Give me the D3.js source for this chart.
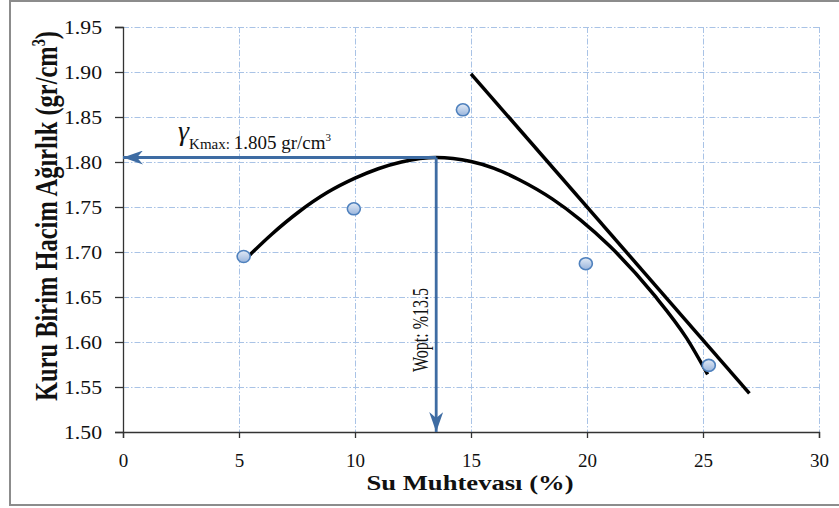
<!DOCTYPE html>
<html>
<head>
<meta charset="utf-8">
<script src="https://cdn.jsdelivr.net/npm/d3@7"></script>
<style>
  body { margin: 0; background: #fff; }
  text { font-family: "Liberation Serif", "Times New Roman", serif; fill: #111; }
</style>
</head>
<body>
<div id="chart"></div>
<script>
// measured points
var moisture = [5.2, 9.95, 14.65, 19.95, 25.25]
var dryDensity = [1.695, 1.748, 1.858, 1.687, 1.574]

// fitted compaction curve
var curveW = [5.2, 6.4, 7.6, 8.8, 10.0, 11.0, 12.0, 13.5, 15.0, 16.0, 17.1, 18.5, 19.7, 21.0, 22.9, 24.3, 25.2]
var curveD = [1.690, 1.7195, 1.745, 1.766, 1.782, 1.7925, 1.800, 1.805, 1.8005, 1.793, 1.780, 1.759, 1.736, 1.706, 1.652, 1.604, 1.564]

// saturation line
var tangentW = [15.0, 27.0]
var tangentD = [1.898, 1.543]

var xTicks = [0, 5, 10, 15, 20, 25, 30]
var yTicks = [1.50, 1.55, 1.60, 1.65, 1.70, 1.75, 1.80, 1.85, 1.90, 1.95]

var gammaMax = 1.805,
    wOpt = 13.5

var width = 839,
    height = 508,
    margin = {top: 27, right: 20, bottom: 76, left: 123}

var svg = d3.select('#chart').append('svg')
    .attr('width', width)
    .attr('height', height)

var defs = svg.append('defs')

var grad = defs.append('linearGradient')
    .attr('id', 'dot')
    .attr('x1', 0).attr('y1', 0).attr('x2', 0).attr('y2', 1)
grad.append('stop').attr('offset', '0%').attr('stop-color', '#e3ebf6')
grad.append('stop').attr('offset', '100%').attr('stop-color', '#98b4dc')

defs.append('marker')
    .attr('id', 'head')
    .attr('viewBox', '0 -7 20 14')
    .attr('refX', 20)
    .attr('refY', 0)
    .attr('markerWidth', 20)
    .attr('markerHeight', 14)
    .attr('markerUnits', 'userSpaceOnUse')
    .attr('orient', 'auto')
  .append('path')
    .attr('d', 'M0,-7L20,0L0,7L6,0Z')
    .attr('fill', '#3e6ca3')

// outer frame
svg.append('rect')
    .attr('x', 10)
    .attr('y', 1)
    .attr('width', width)
    .attr('height', 504)
    .attr('fill', 'none')
    .attr('stroke', '#8c8c8c')
    .attr('stroke-width', 2)

var x = d3.scaleLinear()
    .domain([0, 30])
    .range([margin.left, width - margin.right])

var y = d3.scaleLinear()
    .domain([1.50, 1.95])
    .range([height - margin.bottom, margin.top])

// grid
var grid = svg.append('g')
    .attr('stroke', '#a9c3e6')
    .attr('stroke-width', 1)
    .attr('stroke-dasharray', '6,2,1.5,2')

grid.selectAll('.gx')
    .data(xTicks.slice(1))
  .enter().append('line')
    .attr('class', 'gx')
    .attr('x1', function (d) { return x(d) + 0.5 })
    .attr('x2', function (d) { return x(d) + 0.5 })
    .attr('y1', y(1.95))
    .attr('y2', y(1.50))

grid.selectAll('.gy')
    .data(yTicks.slice(1))
  .enter().append('line')
    .attr('class', 'gy')
    .attr('x1', x(0))
    .attr('x2', x(30))
    .attr('y1', function (d) { return y(d) + 0.5 })
    .attr('y2', function (d) { return y(d) + 0.5 })

// axes
var x_axis = d3.axisBottom(x)
    .tickValues(xTicks)
    .tickSize(6)
    .tickPadding(0)
    .tickFormat(d3.format('d'))

var y_axis = d3.axisLeft(y)
    .tickValues(yTicks)
    .tickSize(8)
    .tickPadding(13)
    .tickFormat(d3.format('.2f'))

var gx = svg.append('g')
    .attr('transform', 'translate(0,' + y(1.50) + ')')
    .call(x_axis)
    .attr('font-family', null)
    .attr('font-size', null)
gx.select('.domain').attr('stroke', '#333').attr('stroke-width', 1.3)
gx.selectAll('.tick line').attr('stroke', '#333').attr('stroke-width', 1.3)
gx.selectAll('.tick text')
    .attr('y', 35)
    .attr('dy', null)
    .style('font-size', '19px')
    .attr('fill', '#111')

var gy = svg.append('g')
    .attr('transform', 'translate(' + x(0) + ',0)')
    .call(y_axis)
    .attr('font-family', null)
    .attr('font-size', null)
gy.select('.domain').attr('stroke', '#333').attr('stroke-width', 1.3)
gy.selectAll('.tick line').attr('stroke', '#333').attr('stroke-width', 1.3)
gy.selectAll('.tick text')
    .style('font-size', '19px')
    .attr('textLength', 38)
    .attr('lengthAdjust', 'spacingAndGlyphs')
    .attr('fill', '#111')

// axis titles
svg.append('text')
    .attr('x', 470)
    .attr('y', 490)
    .attr('text-anchor', 'middle')
    .style('font-size', '22px')
    .style('font-weight', 'bold')
    .attr('textLength', 207)
    .attr('lengthAdjust', 'spacingAndGlyphs')
    .text('Su Muhtevası (%)')

var yt = svg.append('text')
    .attr('transform', 'translate(57,216) scale(1.35,1) rotate(-90)')
    .attr('text-anchor', 'middle')
    .style('font-size', '24px')
    .style('font-weight', 'bold')
    .attr('textLength', 370)
    .attr('lengthAdjust', 'spacingAndGlyphs')
yt.append('tspan').text('Kuru Birim Hacim Ağırlık (gr/cm')
yt.append('tspan').attr('dy', -9).style('font-size', '14px').text('3')
yt.append('tspan').attr('dy', 9).text(')')

// curve and saturation line
var line = d3.line()
    .x(function (d) { return x(d[0]) })
    .y(function (d) { return y(d[1]) })

svg.append('path')
    .datum(curveW.map(function (w, i) { return [w, curveD[i]] }))
    .attr('d', line.curve(d3.curveMonotoneX))
    .attr('fill', 'none')
    .attr('stroke', '#000')
    .attr('stroke-width', 3.5)

svg.append('path')
    .datum(tangentW.map(function (w, i) { return [w, tangentD[i]] }))
    .attr('d', line.curve(d3.curveLinear))
    .attr('fill', 'none')
    .attr('stroke', '#000')
    .attr('stroke-width', 3.5)

// arrows to the axes
svg.append('line')
    .attr('x1', x(wOpt))
    .attr('y1', y(gammaMax))
    .attr('x2', x(0))
    .attr('y2', y(gammaMax))
    .attr('stroke', '#3e6ca3')
    .attr('stroke-width', 2.8)
    .attr('marker-end', 'url(#head)')

svg.append('line')
    .attr('x1', x(wOpt))
    .attr('y1', y(gammaMax))
    .attr('x2', x(wOpt))
    .attr('y2', y(1.50))
    .attr('stroke', '#3e6ca3')
    .attr('stroke-width', 2.8)
    .attr('marker-end', 'url(#head)')

// data points
svg.selectAll('.dot')
    .data(moisture)
  .enter().append('ellipse')
    .attr('class', 'dot')
    .attr('cx', function (d) { return x(d) })
    .attr('cy', function (d, i) { return y(dryDensity[i]) })
    .attr('rx', 6.5)
    .attr('ry', 6)
    .attr('fill', 'url(#dot)')
    .attr('stroke', '#4f81bd')
    .attr('stroke-width', 1.6)

// annotations
var lab = svg.append('text')
    .attr('x', 178)
    .attr('y', 149)
lab.append('tspan')
    .attr('dy', -9)
    .style('font-size', '28px')
    .style('font-style', 'italic')
    .text('γ')
lab.append('tspan')
    .attr('dy', 9)
    .style('font-size', '15px')
    .text('Kmax')
lab.append('tspan')
    .style('font-size', '15px')
    .text(': ')
lab.append('tspan')
    .style('font-size', '19px')
    .text(gammaMax + ' gr/cm')
lab.append('tspan')
    .attr('dy', -8)
    .style('font-size', '11px')
    .text('3')

svg.append('text')
    .attr('transform', 'translate(428,330) scale(1.35,1) rotate(-90)')
    .attr('text-anchor', 'middle')
    .style('font-size', '17px')
    .attr('textLength', 84)
    .attr('lengthAdjust', 'spacingAndGlyphs')
    .text('Wopt: %' + wOpt)
</script>
</body>
</html>
